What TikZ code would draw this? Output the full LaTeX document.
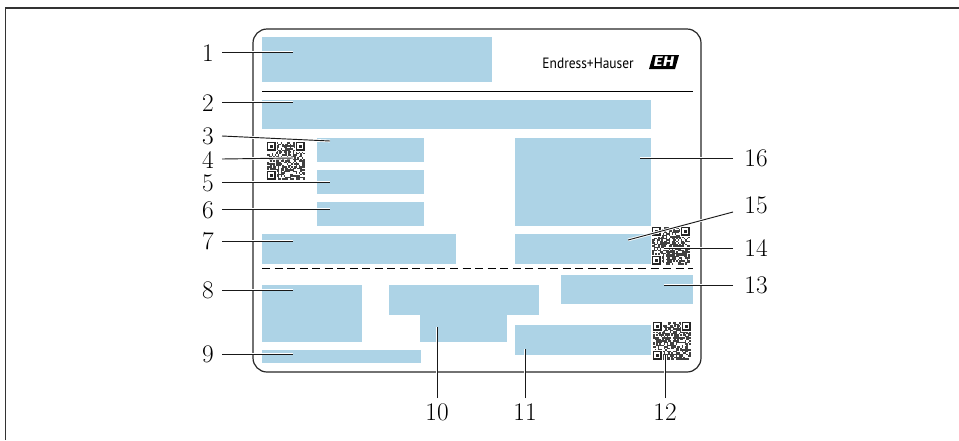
\documentclass[tikz,border=0pt]{standalone}
\usepackage{fontspec}
\newfontfamily\logofont{PT Sans}
\newfontfamily\markfont{Fira Sans}

\tikzset{
  field/.style={fill={rgb,255:red,173;green,211;blue,230}},
  leader/.style={draw=black!90, line width=0.7pt, preaction={draw=white, line width=2pt}},
  callout/.style={inner sep=0pt, font=\fontsize{19}{20}\selectfont},
  rule-line/.style={draw=black, line width=0.6pt},
}

\newcommand{\qrfinder}[2]{%
  \draw[black!85, line width=0.9pt] (#1+0.5,#2+0.5) rectangle (#1+8,#2+8);
  \fill[black!85] (#1+2.5,#2+2.5) rectangle (#1+6,#2+6);
}
\newcommand{\qrpatch}[2]{%
  \foreach \col in {0,...,24} {
    \foreach \row in {0,...,24} {
      \pgfmathsetmacro{\hit}{rnd}
      \ifdim\hit pt<0.6pt
        \fill[black!75] (#1+\col*1.5,#2+\row*1.5) rectangle +(1.5,1.5);
      \fi
    }
  }
  \fill[white] (#1,#2) rectangle +(10,10);
  \fill[white] (#1+27.5,#2) rectangle +(10,10);
  \fill[white] (#1,#2+27.5) rectangle +(10,10);
  \qrfinder{#1}{#2}
  \qrfinder{#1+29}{#2}
  \qrfinder{#1}{#2+29}
}

\begin{document}
\begin{tikzpicture}[x=0.75pt, y=-0.75pt]
  \useasboundingbox (0,0) rectangle (959,440);
  \pgfmathsetseed{4711}

  \draw[black!80, line width=0.9pt] (5.5,440) -- (5.5,8) -- (959,8);
  \draw[black!85, line width=0.9pt, rounded corners=10.5pt] (253,29) rectangle (701,372);

  \fill[field] (262,37) rectangle (492,82);
  \fill[field] (262,100) rectangle (651,129);
  \fill[field] (317,138) rectangle (424,162);
  \fill[field] (317,170) rectangle (424,194);
  \fill[field] (317,202) rectangle (424,226);
  \fill[field] (262,234) rectangle (456,264);
  \fill[field] (515,138) rectangle (651,226);
  \fill[field] (515,234) rectangle (651,264);
  \fill[field] (262,285) rectangle (362,342);
  \fill[field] (262,350) rectangle (421,363);
  \fill[field] (389,285) rectangle (539,315);
  \fill[field] (420,315) rectangle (507,342);
  \fill[field] (561,275) rectangle (693,304);
  \fill[field] (515,325) rectangle (651,355);

  \draw[rule-line] (262,91) -- (693,91);
  \draw[rule-line, dash pattern=on 6pt off 3.4pt] (262,268) -- (693,268);

  \qrpatch{267}{142}
  \qrpatch{652}{227}
  \qrpatch{653}{322}

  \node[anchor=east, inner sep=0pt, xscale=0.9] (logo-text) at (634,63)
    {\logofont\fontsize{11.2}{12}\selectfont Endress+Hauser};
  \fill[black] (653,55) -- (679,55) -- (675,69) -- (649,69) -- cycle;
  \node[text=white, inner sep=0pt, xscale=1.25] (logo-mark) at (664,62)
    {\markfont\fontsize{10.5}{11}\selectfont\bfseries\itshape EH};

  \node[callout] (label-1) at (208,53) {1};
  \node[callout] (label-2) at (208,103) {2};
  \node[callout] (label-3) at (208,136) {3};
  \node[callout] (label-4) at (208,160) {4};
  \node[callout] (label-5) at (208,183) {5};
  \node[callout] (label-6) at (208,210) {6};
  \node[callout] (label-7) at (208,241) {7};
  \node[callout] (label-8) at (208,290) {8};
  \node[callout] (label-9) at (208,354) {9};
  \node[callout] (label-10) at (437,412) {10};
  \node[callout] (label-11) at (525,412) {11};
  \node[callout] (label-12) at (665,412) {12};
  \node[callout] (label-13) at (756,285) {13};
  \node[callout] (label-14) at (756,248) {14};
  \node[callout] (label-15) at (756,205) {15};
  \node[callout] (label-16) at (756,158) {16};

  \coordinate (field-1) at (293,52);
  \coordinate (field-2) at (293,102);
  \coordinate (field-3) at (330,141);
  \coordinate (field-4) at (293,158);
  \coordinate (field-5) at (330,182);
  \coordinate (field-6) at (330,209);
  \coordinate (field-7) at (293,241);
  \coordinate (field-8) at (293,290);
  \coordinate (field-9) at (293,354);
  \coordinate (field-10) at (437,327);
  \coordinate (field-11) at (525,349);
  \coordinate (field-12) at (665,355);
  \coordinate (field-13) at (664,285);
  \coordinate (field-14) at (664,248);
  \coordinate (field-15) at (628,240);
  \coordinate (field-16) at (640,158);

  \draw[leader] (222,52) -- (field-1);
  \draw[leader] (222,102) -- (field-2);
  \draw[leader] (222,136) -- (field-3);
  \draw[leader] (222,159) -- (field-4);
  \draw[leader] (222,182) -- (field-5);
  \draw[leader] (222,209) -- (field-6);
  \draw[leader] (222,241) -- (field-7);
  \draw[leader] (222,290) -- (field-8);
  \draw[leader] (222,354) -- (field-9);
  \draw[leader] (437,398) -- (field-10);
  \draw[leader] (525,398) -- (field-11);
  \draw[leader] (665,398) -- (field-12);
  \draw[leader] (733,285) -- (field-13);
  \draw[leader] (733,248) -- (field-14);
  \draw[leader] (733,212) -- (field-15);
  \draw[leader] (733,158) -- (field-16);
\end{tikzpicture}
\end{document}
